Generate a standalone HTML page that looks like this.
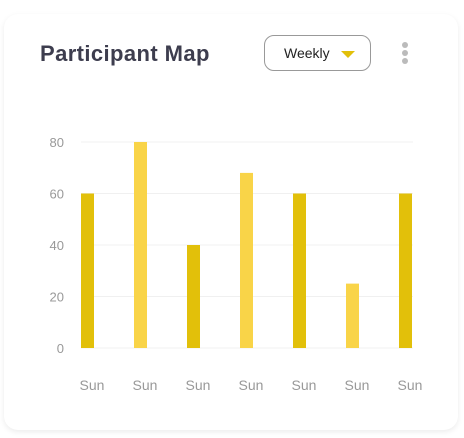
<!DOCTYPE html>
<html><head><meta charset="utf-8"><style>
body{margin:0;width:464px;height:438px;background:#fff;font-family:"Liberation Sans",sans-serif;overflow:hidden}
.card{position:absolute;left:4px;top:14px;width:454px;height:416px;border-radius:14px;background:#fff;box-shadow:0 2px 6px rgba(0,0,0,0.08)}
.title{position:absolute;left:40px;top:41px;font-size:22px;letter-spacing:0.4px;font-weight:bold;color:#3d3d4e}
.dd{position:absolute;left:264px;top:35px;width:107px;height:36px;border:1px solid #999;border-radius:10px;box-sizing:border-box}
.dd span{position:absolute;left:19px;top:9px;font-size:14px;color:#222}
.dd i{position:absolute;left:76px;top:15px;width:0;height:0;border-left:7px solid transparent;border-right:7px solid transparent;border-top:7px solid #E2C00A}
.dot{position:absolute;left:402px;width:6px;height:6px;border-radius:3px;background:#bbb}
svg{position:absolute;left:0;top:0}
</style></head><body>
<div class="card"></div>
<div class="title">Participant Map</div>
<div class="dd"><span>Weekly</span><i></i></div>
<div class="dot" style="top:42px"></div>
<div class="dot" style="top:50px"></div>
<div class="dot" style="top:58px"></div>
<svg id="c" width="464" height="438"></svg>
<script>
const categories=["Sun","Sun","Sun","Sun","Sun","Sun","Sun"];
const values=[60,80,40,68,60,25,60];
const yTicks=[0,20,40,60,80];
const svg=document.getElementById('c');
const NS='http://www.w3.org/2000/svg';
const y=v=>348-v*(206/80);
const x=i=>81+i*53;
function mk(t,a){const e=document.createElementNS(NS,t);for(const k in a)e.setAttribute(k,a[k]);svg.appendChild(e);return e;}
yTicks.forEach(t=>{
 const l=mk('line',{x1:81,x2:413,y1:y(t),y2:y(t),stroke:'#f0f0f0','stroke-width':1});
 
 
 const tx=mk('text',{x:64,y:y(t)+5,'text-anchor':'end','font-size':13,fill:'#999','font-family':'Liberation Sans, sans-serif'});
 tx.textContent=t;
 
 
});
values.forEach((v,i)=>{
 const r=mk('rect',{x:x(i),y:y(v),width:13,height:348-y(v),fill:i%2?'#F9D448':'#E2C00A'});
 
 
 const tx=mk('text',{x:x(i)+11,y:390,'text-anchor':'middle','font-size':14,fill:'#999','font-family':'Liberation Sans, sans-serif'});
 tx.textContent=categories[i];
 
 
});
</script>
</body></html>
